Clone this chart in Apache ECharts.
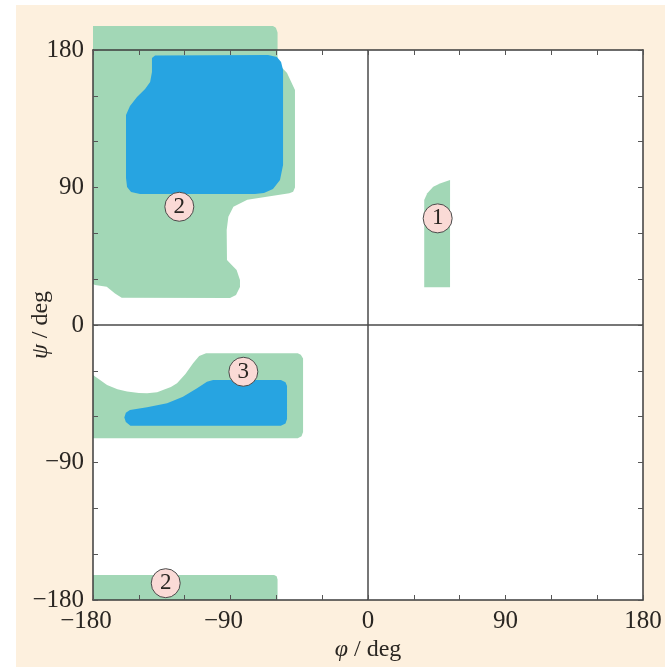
<!DOCTYPE html>
<html>
<head>
<meta charset="utf-8">
<script src="https://cdn.jsdelivr.net/npm/echarts@6/dist/echarts.min.js"></script>
<style>
html,body{margin:0;padding:0;background:#ffffff;}
#chart{width:669px;height:667px;}
</style>
</head>
<body>
<div id="chart"></div>
<script>
// Axis range and tick labels (degrees)
const axisMin = -180;
const axisMax = 180;
const labelStep = 90;
const minorSplit = 3;

// Allowed regions as polygons in (phi, psi) degrees
const greenBetaTop = [
  [-180,195.7],[-62.2,195.7],[-60.3,194.6],[-59.2,191.5],[-59.2,171.5],[-53,165],[-47.8,153.8],
  [-47.8,90],[-49,87.2],[-51.5,86.2],[-79,82],[-88.1,77.4],[-91.4,70.9],[-92.5,62.2],
  [-92.3,42.5],[-90.3,40.4],[-86,36],[-83.8,29.5],[-83.8,24.9],[-86.4,19.6],[-90.3,17.7],
  [-161.2,17.8],[-165.6,20.7],[-171,25.1],[-178.7,26.2],[-180,26.8]
];
const blueBetaTop = [
  [-141.4,174.7],[-139.4,176.4],[-65.4,176.7],[-59.6,175.4],[-56.9,172.1],[-55.6,166.9],
  [-55.6,104.7],[-57.6,94.9],[-62.2,89],[-68.1,86.4],[-74,85.7],[-149.2,85.7],
  [-155.1,87],[-157.7,90.3],[-158.4,96.2],[-158.4,137.4],[-155.8,143.3],[-151.2,149.2],
  [-145.9,154.5],[-142.6,159],[-141.4,165.6]
];
const greenAlpha = [
  [-180,-32.7],[-170.8,-39.3],[-164,-42],[-157.7,-43.6],[-150,-44.5],[-144.6,-44.7],
  [-138,-44],[-134.2,-42.5],[-129,-40.5],[-125,-38.2],[-119.5,-32],[-114.5,-25.1],
  [-110.5,-20.3],[-106,-18.5],[-46,-18.5],[-44,-19.5],[-42.5,-22],[-42.5,-70],
  [-43.5,-72.8],[-46,-74.2],[-180,-74.2]
];
const blueAlpha = [
  [-101.4,-36],[-57,-36],[-54,-37.5],[-53,-40],[-53,-61.5],[-54,-64.5],[-57,-65.9],
  [-155.5,-65.9],[-158.5,-63.5],[-159.5,-60.5],[-158.5,-57.5],[-155.8,-55.6],
  [-144.6,-53.9],[-131.5,-51.2],[-121.1,-46.9],[-111.9,-41.4],[-105.4,-37.1]
];
const greenBetaBottom = [
  [-180,-180],[-180,-163.6],[-61.5,-163.6],[-59.8,-164.5],[-59.2,-166.5],[-59.2,-180]
];
const greenLeftHelix = [
  [36.8,24.7],[53.7,24.7],[53.7,94.9],[47.1,92.7],[42.7,90.5],[38.8,86.2],[36.8,81.8]
];

// Region markers
const markerPhi = [45.6, -123.5, -81.6, -132.4];
const markerPsi = [69.8, 77.4, -30.6, -169];
const markerText = ['1', '2', '3', '2'];

const GREEN = '#A2D7B6';
const BLUE = '#27A4E1';
const INK = '#2a2622';
const SERIF = 'Liberation Serif';

function polygonSeries(points, color) {
  return {
    type: 'custom',
    coordinateSystem: 'cartesian2d',
    clip: false,
    silent: true,
    data: [[points[0][0], points[0][1]]],
    renderItem: function (params, api) {
      const pts = points.map(p => api.coord(p));
      return {
        type: 'polygon',
        shape: { points: pts },
        style: { fill: color, stroke: null }
      };
    },
    z: 2
  };
}

const fmt = v => String(v).replace('-', '\u2212');
const fmtX = v => v < 0 ? '{neg|' + fmt(v) + '}' : '{pos|' + fmt(v) + '}';

const chart = echarts.init(document.getElementById('chart'), null, { renderer: 'canvas' });

const baseAxis = {
  type: 'value',
  min: axisMin,
  max: axisMax,
  interval: labelStep,
  z: 5,
  nameMoveOverlap: false,
  axisLine: { show: true, onZero: false, lineStyle: { color: '#3d3d3d', width: 1.5 } },
  axisTick: { show: true, inside: true, length: 5, lineStyle: { color: '#555', width: 1 } },
  minorTick: { show: true, splitNumber: minorSplit, length: 5, lineStyle: { color: '#555', width: 1 } },
  splitLine: { show: false },
  minorSplitLine: { show: false }
};

const nameRich = {
  i: { fontFamily: SERIF, fontStyle: 'italic', fontSize: 24, color: INK },
  n: { fontFamily: SERIF, fontSize: 24, color: INK }
};

const option = {
  backgroundColor: 'transparent',
  animation: false,
  textStyle: { fontFamily: SERIF },
  graphic: [{
    type: 'rect',
    shape: { x: 16, y: 5, width: 649, height: 662 },
    style: { fill: '#FDF0DE' },
    z: -10,
    silent: true
  }],
  grid: {
    left: 93, right: 26, top: 50, bottom: 67,
    outerBoundsMode: 'none',
    containLabel: false,
    show: true, backgroundColor: '#ffffff', borderWidth: 0
  },
  xAxis: [
    Object.assign({}, baseAxis, {
      position: 'bottom',
      axisLabel: {
        show: true, margin: 9, formatter: fmtX, color: INK, fontFamily: SERIF, fontSize: 25,
        rich: {
          neg: { fontFamily: SERIF, fontSize: 25, color: INK, padding: [0, 14, 0, 0] },
          pos: { fontFamily: SERIF, fontSize: 25, color: INK }
        }
      },
      name: '{i|\u03c6}{n| / deg}',
      nameLocation: 'middle',
      nameGap: 38,
      nameTextStyle: { fontFamily: SERIF, rich: nameRich }
    }),
    Object.assign({}, baseAxis, {
      position: 'top',
      axisLabel: { show: false }
    })
  ],
  yAxis: [
    Object.assign({}, baseAxis, {
      position: 'left',
      axisLabel: { show: true, margin: 9, formatter: fmt, color: INK, fontFamily: SERIF, fontSize: 25 },
      name: '{i|\u03c8}{n| / deg}',
      nameLocation: 'middle',
      nameGap: 40,
      nameTextStyle: { fontFamily: SERIF, rich: nameRich }
    }),
    Object.assign({}, baseAxis, {
      position: 'right',
      axisLabel: { show: false }
    })
  ],
  series: [
    polygonSeries(greenBetaTop, GREEN),
    polygonSeries(greenAlpha, GREEN),
    polygonSeries(greenBetaBottom, GREEN),
    polygonSeries(greenLeftHelix, GREEN),
    polygonSeries(blueBetaTop, BLUE),
    polygonSeries(blueAlpha, BLUE),
    {
      type: 'scatter',
      silent: true,
      z: 6,
      symbol: 'circle',
      symbolSize: 29,
      itemStyle: { color: '#FADAD6', borderColor: '#4a4a4a', borderWidth: 1, opacity: 1 },
      label: {
        show: true,
        position: 'inside',
        formatter: p => markerText[p.dataIndex],
        fontFamily: SERIF,
        fontSize: 23,
        color: INK
      },
      data: markerPhi.map((v, i) => [v, markerPsi[i]]),
      markLine: {
        silent: true,
        symbol: 'none',
        label: { show: false },
        lineStyle: { color: '#4a4a4a', width: 1.5, type: 'solid' },
        data: [{ xAxis: 0 }, { yAxis: 0 }]
      }
    }
  ]
};

chart.setOption(option);
</script>
</body>
</html>
